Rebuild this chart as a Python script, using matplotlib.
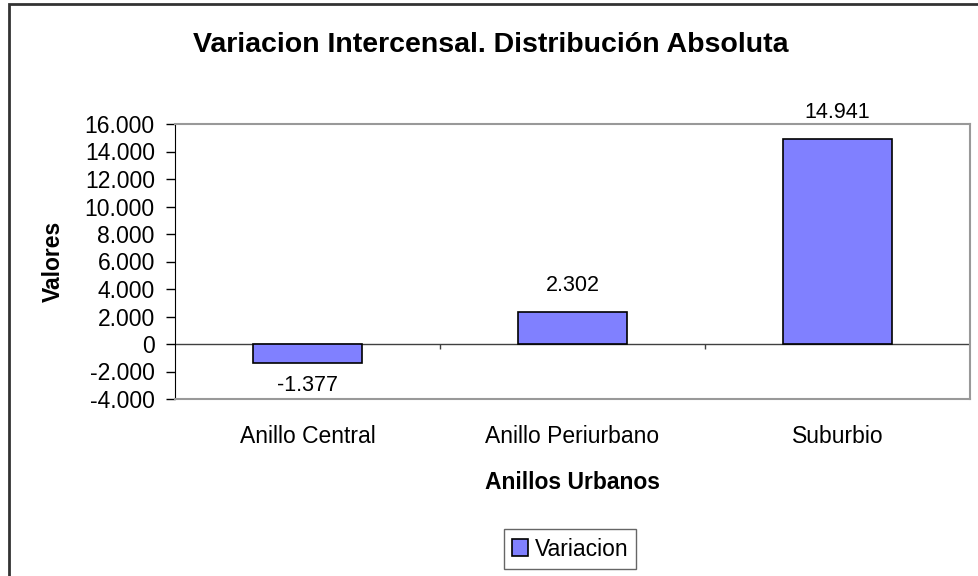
import matplotlib.pyplot as plt
from matplotlib.patches import Rectangle
from matplotlib.ticker import FuncFormatter

plt.rcParams['font.family'] = ['Liberation Sans', 'DejaVu Sans']

# data
categorias = ['Anillo Central', 'Anillo Periurbano', 'Suburbio']
variacion = [-1377, 2302, 14941]
yticks = list(range(-4000, 16001, 2000))


def miles(v, pos=None):
    # thousands with a dot, as in the original
    s = f'{abs(int(v)):,}'.replace(',', '.')
    return ('-' if v < 0 else '') + s


fig = plt.figure(figsize=(9.79, 5.76), dpi=100)
ax = fig.add_axes([175 / 979, 1 - 399 / 576, 795 / 979, 275 / 576])

x = range(len(categorias))
bars = ax.bar(x, variacion, width=0.41, color='#8080FF', edgecolor='black',
              linewidth=1.2, label='Variacion', zorder=3)

for b, v in zip(bars, variacion):
    off = 19 if v >= 0 else -16
    ax.annotate(miles(v), (b.get_x() + b.get_width() / 2, v),
                xytext=(0, off), textcoords='offset points',
                ha='center', va='center', fontsize=15.5)

ax.set_xlim(-0.5, len(categorias) - 0.5)
ax.set_ylim(-4000, 16000)
ax.set_yticks(yticks)
ax.yaxis.set_major_formatter(FuncFormatter(miles))
ax.tick_params(axis='y', direction='out', length=6.5, width=1, labelsize=16.5, pad=8)

ax.set_xticks(list(x))
ax.set_xticklabels(categorias, fontsize=16.5)
ax.tick_params(axis='x', length=0, pad=19)

# zero line with category separators
ax.axhline(0, color='#404040', linewidth=1, zorder=2)
ax.vlines([i + 0.5 for i in x], -350, 0, color='#404040', linewidth=1, zorder=2)

for s in ['top', 'right', 'bottom']:
    ax.spines[s].set_color('#999999')
    ax.spines[s].set_linewidth(1.5)
ax.spines['left'].set_color('black')

ax.set_ylabel('Valores', fontsize=16.5, fontweight='bold', labelpad=14)
ax.set_xlabel('Anillos Urbanos', fontsize=16.5, fontweight='bold', labelpad=16)

fig.text(491 / 979, 1 - 45 / 576, 'Variacion Intercensal. Distribución Absoluta',
         ha='center', va='center', fontsize=20.5, fontweight='bold')

leg = fig.legend(loc='center', bbox_to_anchor=(570 / 979, 1 - 549 / 576),
                 fontsize=16.5, frameon=True, fancybox=False, handlelength=0.7,
                 handleheight=0.7, handletextpad=0.3, borderpad=0.35)
leg.get_frame().set_edgecolor('#404040')
leg.get_frame().set_linewidth(1)

# outer chart frame
fig.patches.append(Rectangle((9 / 979, -0.1), 1.2, 1 - 4 / 576 + 0.1,
                             transform=fig.transFigure, fill=False,
                             edgecolor='#333333', linewidth=2))

fig.savefig('out.png', dpi=100)
